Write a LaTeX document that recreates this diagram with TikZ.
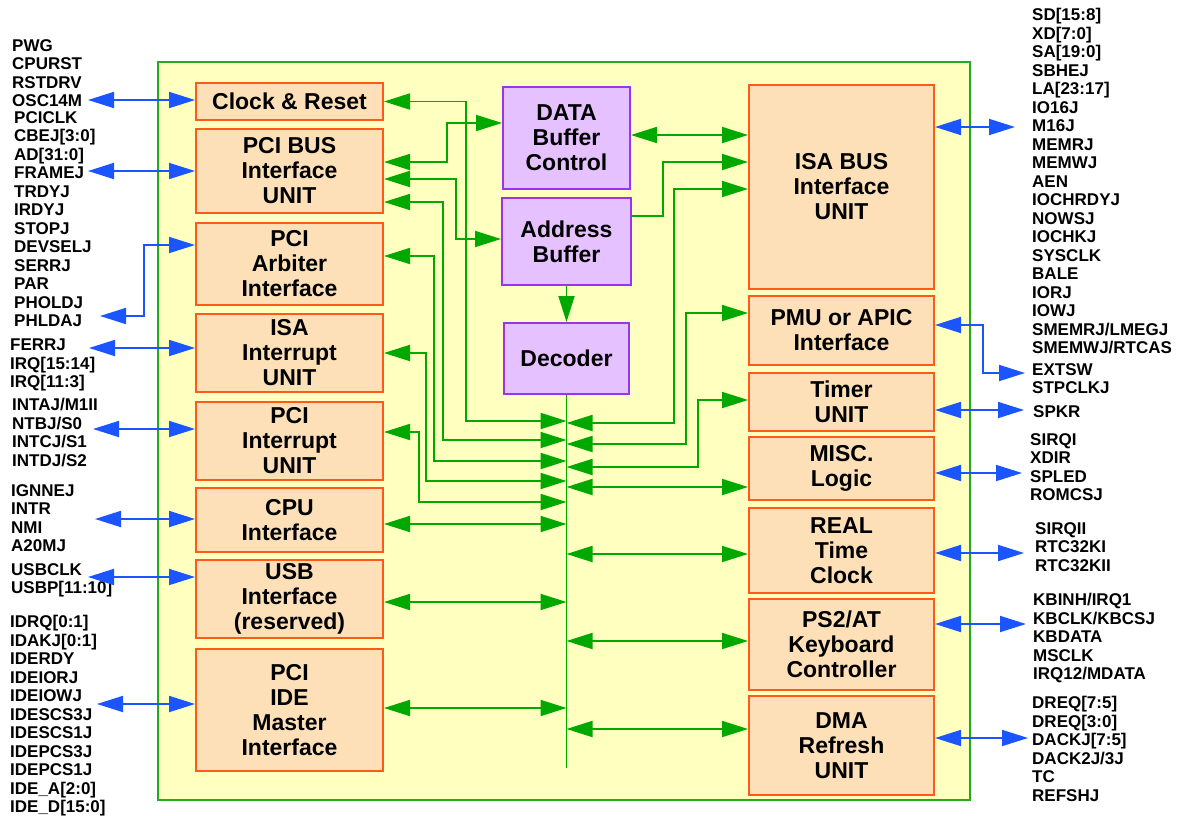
\documentclass[tikz,border=0pt]{standalone}
\usepackage{fontspec}
\setmainfont{Liberation Sans}
\usetikzlibrary{arrows.meta}
\definecolor{chipbg}{HTML}{FFFFC0}
\definecolor{chipline}{HTML}{22AA22}
\definecolor{ofill}{HTML}{FDE0B8}
\definecolor{oline}{HTML}{FF5A1A}
\definecolor{pfill}{HTML}{E5C2FF}
\definecolor{pline}{HTML}{9933EE}
\definecolor{grn}{HTML}{00A800}
\definecolor{blu}{HTML}{1A55FF}
\tikzset{>={Triangle[length=26pt,width=16pt]},
  obox/.style={draw=oline, fill=ofill, line width=2pt, anchor=north west,
    align=center, inner sep=0pt, font=\fontsize{23}{25}\selectfont\bfseries},
  pbox/.style={obox, draw=pline, fill=pfill},
  gwire/.style={draw=grn, line width=1.8pt},
  bwire/.style={draw=blu, line width=1.8pt},
  sig/.style={anchor=north west, align=left, inner sep=0pt,
    font=\fontsize{17}{18.5}\selectfont\bfseries}}

\begin{document}
\begin{tikzpicture}[x=1pt,y=-1pt]
  \useasboundingbox (0,0) rectangle (1189,816);
  \draw[draw=chipline, fill=chipbg, line width=2pt] (158,62) rectangle (970,800);

  % left units
  \node[obox, minimum width=187, minimum height=37] (clk) at (195,82) {Clock \& Reset};
  \node[obox, minimum width=187, minimum height=84] (pcibus) at (195,128) {PCI BUS\\Interface\\UNIT};
  \node[obox, minimum width=187, minimum height=82] (arb) at (195,222) {PCI\\Arbiter\\Interface};
  \node[obox, minimum width=187, minimum height=78] (isaint) at (195,313) {ISA\\Interrupt\\UNIT};
  \node[obox, minimum width=187, minimum height=78] (pciint) at (195,401) {PCI\\Interrupt\\UNIT};
  \node[obox, minimum width=187, minimum height=64] (cpu) at (195,487) {CPU\\Interface};
  \node[obox, minimum width=187, minimum height=78] (usb) at (195,559) {USB\\Interface\\(reserved)};
  \node[obox, minimum width=187, minimum height=122] (ide) at (195,648) {PCI\\IDE\\Master\\Interface};

  % middle
  \node[pbox, minimum width=127, minimum height=102] (dbc) at (502,86) {DATA\\Buffer\\Control};
  \node[pbox, minimum width=129, minimum height=87] (ab) at (501,197) {Address\\Buffer};
  \node[pbox, minimum width=125, minimum height=71] (dec) at (503,322) {Decoder};

  % right units
  \node[obox, minimum width=185, minimum height=204] (isa) at (748,84) {ISA BUS\\Interface\\UNIT};
  \node[obox, minimum width=185, minimum height=69] (pmu) at (748,295) {PMU or APIC\\Interface};
  \node[obox, minimum width=185, minimum height=58] (tmr) at (748,372) {Timer\\UNIT};
  \node[obox, minimum width=185, minimum height=63] (misc) at (748,436) {MISC.\\Logic};
  \node[obox, minimum width=185, minimum height=85] (rtc) at (748,507) {REAL\\Time\\Clock};
  \node[obox, minimum width=185, minimum height=91] (kbd) at (748,598) {PS2/AT\\Keyboard\\Controller};
  \node[obox, minimum width=185, minimum height=99] (dma) at (748,695) {DMA\\Refresh\\UNIT};

  % internal bus
  \coordinate (bus) at (dec.south);
  \draw[gwire] (bus) -- (bus |- 0,768);
  \draw[gwire,->] (ab.south) -- (dec.north);

  \draw[gwire,<->] (clk.east) -| (466,421) -- (bus |- 0,421);
  \draw[gwire,<->] (pcibus.east |- 0,162) -| (447,123) -- (dbc.west |- 0,123);
  \draw[gwire,<->] (pcibus.east |- 0,179) -| (456,239) -- (ab.west |- 0,239);
  \draw[gwire,<->] (pcibus.east |- 0,202) -| (443,440) -- (bus |- 0,440);
  \draw[gwire,<->] (arb.east |- 0,256) -| (434,461) -- (bus |- 0,461);
  \draw[gwire,<->] (isaint.east |- 0,353) -| (426,481) -- (bus |- 0,481);
  \draw[gwire,<->] (pciint.east |- 0,432) -| (419,502) -- (bus |- 0,502);
  \draw[gwire,<->] (cpu.east |- 0,524) -- (bus |- 0,524);
  \draw[gwire,<->] (usb.east |- 0,602) -- (bus |- 0,602);
  \draw[gwire,<->] (ide.east |- 0,708) -- (bus |- 0,708);

  \draw[gwire,<->] (dbc.east |- 0,135) -- (isa.west |- 0,135);
  \draw[gwire,->] (ab.east |- 0,216) -| (663,162) -- (isa.west |- 0,162);
  \draw[gwire,<->] (bus |- 0,423) -| (674,189) -- (isa.west |- 0,189);
  \draw[gwire,<->] (bus |- 0,444) -| (686,313) -- (pmu.west |- 0,313);
  \draw[gwire,<->] (bus |- 0,467) -| (698,400) -- (tmr.west |- 0,400);
  \draw[gwire,<->] (bus |- 0,487) -- (misc.west |- 0,487);
  \draw[gwire,<->] (bus |- 0,554) -- (rtc.west |- 0,554);
  \draw[gwire,<->] (bus |- 0,641) -- (kbd.west |- 0,641);
  \draw[gwire,<->] (bus |- 0,729) -- (dma.west |- 0,729);

  % pins, left
  \node[sig] (sA) at (12,39) {PWG\\CPURST\\RSTDRV\\OSC14M};
  \node[sig] (sB) at (14,111) {PCICLK\\CBEJ[3:0]\\AD[31:0]\\FRAMEJ\\TRDYJ\\IRDYJ\\STOPJ\\DEVSELJ\\SERRJ\\PAR\\PHOLDJ\\PHLDAJ};
  \node[sig] (sC) at (10,339) {FERRJ\\IRQ[15:14]\\IRQ[11:3]};
  \node[sig] (sD) at (12,398) {INTAJ/M1II\\NTBJ/S0\\INTCJ/S1\\INTDJ/S2};
  \node[sig] (sE) at (11,484) {IGNNEJ\\INTR\\NMI\\A20MJ};
  \node[sig] (sF) at (11,563) {USBCLK\\USBP[11:10]};
  \node[sig] (sG) at (10,615) {IDRQ[0:1]\\IDAKJ[0:1]\\IDERDY\\IDEIORJ\\IDEIOWJ\\IDESCS3J\\IDESCS1J\\IDEPCS3J\\IDEPCS1J\\IDE\_A[2:0]\\IDE\_D[15:0]};

  % pins, right
  \node[sig] (sH) at (1032,8) {SD[15:8]\\XD[7:0]\\SA[19:0]\\SBHEJ\\LA[23:17]\\IO16J\\M16J\\MEMRJ\\MEMWJ\\AEN\\IOCHRDYJ\\NOWSJ\\IOCHKJ\\SYSCLK\\BALE\\IORJ\\IOWJ\\SMEMRJ/LMEGJ\\SMEMWJ/RTCAS};
  \node[sig] (sI) at (1032,363) {EXTSW\\STPCLKJ};
  \node[sig] (sJ) at (1033,405) {SPKR};
  \node[sig] (sK) at (1030,433) {SIRQI\\XDIR\\SPLED\\ROMCSJ};
  \node[sig] (sL) at (1035,522) {SIRQII\\RTC32KI\\RTC32KII};
  \node[sig] (sM) at (1033,593) {KBINH/IRQ1\\KBCLK/KBCSJ\\KBDATA\\MSCLK\\IRQ12/MDATA};
  \node[sig] (sN) at (1032,696) {DREQ[7:5]\\DREQ[3:0]\\DACKJ[7:5]\\DACK2J/3J\\TC\\REFSHJ};

  % pin arrows
  \coordinate (c1) at (88,100);
  \coordinate (c2) at (88,171);
  \coordinate (c3) at (100,316);
  \coordinate (c4) at (89,348);
  \coordinate (c5) at (93,429);
  \coordinate (c6) at (95,519);
  \coordinate (c7) at (88,577);
  \coordinate (c8) at (97,704);
  \draw[bwire,<->] (c1) -- (clk.west |- c1);
  \draw[bwire,<->] (c2) -- (pcibus.west |- c2);
  \draw[bwire,<->] (c3) -| (144,245) -- (arb.west |- 0,245);
  \draw[bwire,<->] (c4) -- (isaint.west |- c4);
  \draw[bwire,<->] (c5) -- (pciint.west |- c5);
  \draw[bwire,<->] (c6) -- (cpu.west |- c6);
  \draw[bwire,<->] (c7) -- (usb.west |- c7);
  \draw[bwire,<->] (c8) -- (ide.west |- c8);

  \coordinate (d1) at (1015,127);
  \coordinate (d2) at (1025,373);
  \coordinate (d3) at (1024,410);
  \coordinate (d4) at (1022,473);
  \coordinate (d5) at (1024,553);
  \coordinate (d6) at (1026,624);
  \coordinate (d7) at (1028,738);
  \draw[bwire,<->] (isa.east |- d1) -- (d1);
  \draw[bwire,<->] (pmu.east |- 0,325) -| (983,373) -- (d2);
  \draw[bwire,<->] (tmr.east |- d3) -- (d3);
  \draw[bwire,<->] (misc.east |- d4) -- (d4);
  \draw[bwire,<->] (rtc.east |- d5) -- (d5);
  \draw[bwire,<->] (kbd.east |- d6) -- (d6);
  \draw[bwire,<->] (dma.east |- d7) -- (d7);
\end{tikzpicture}
\end{document}
